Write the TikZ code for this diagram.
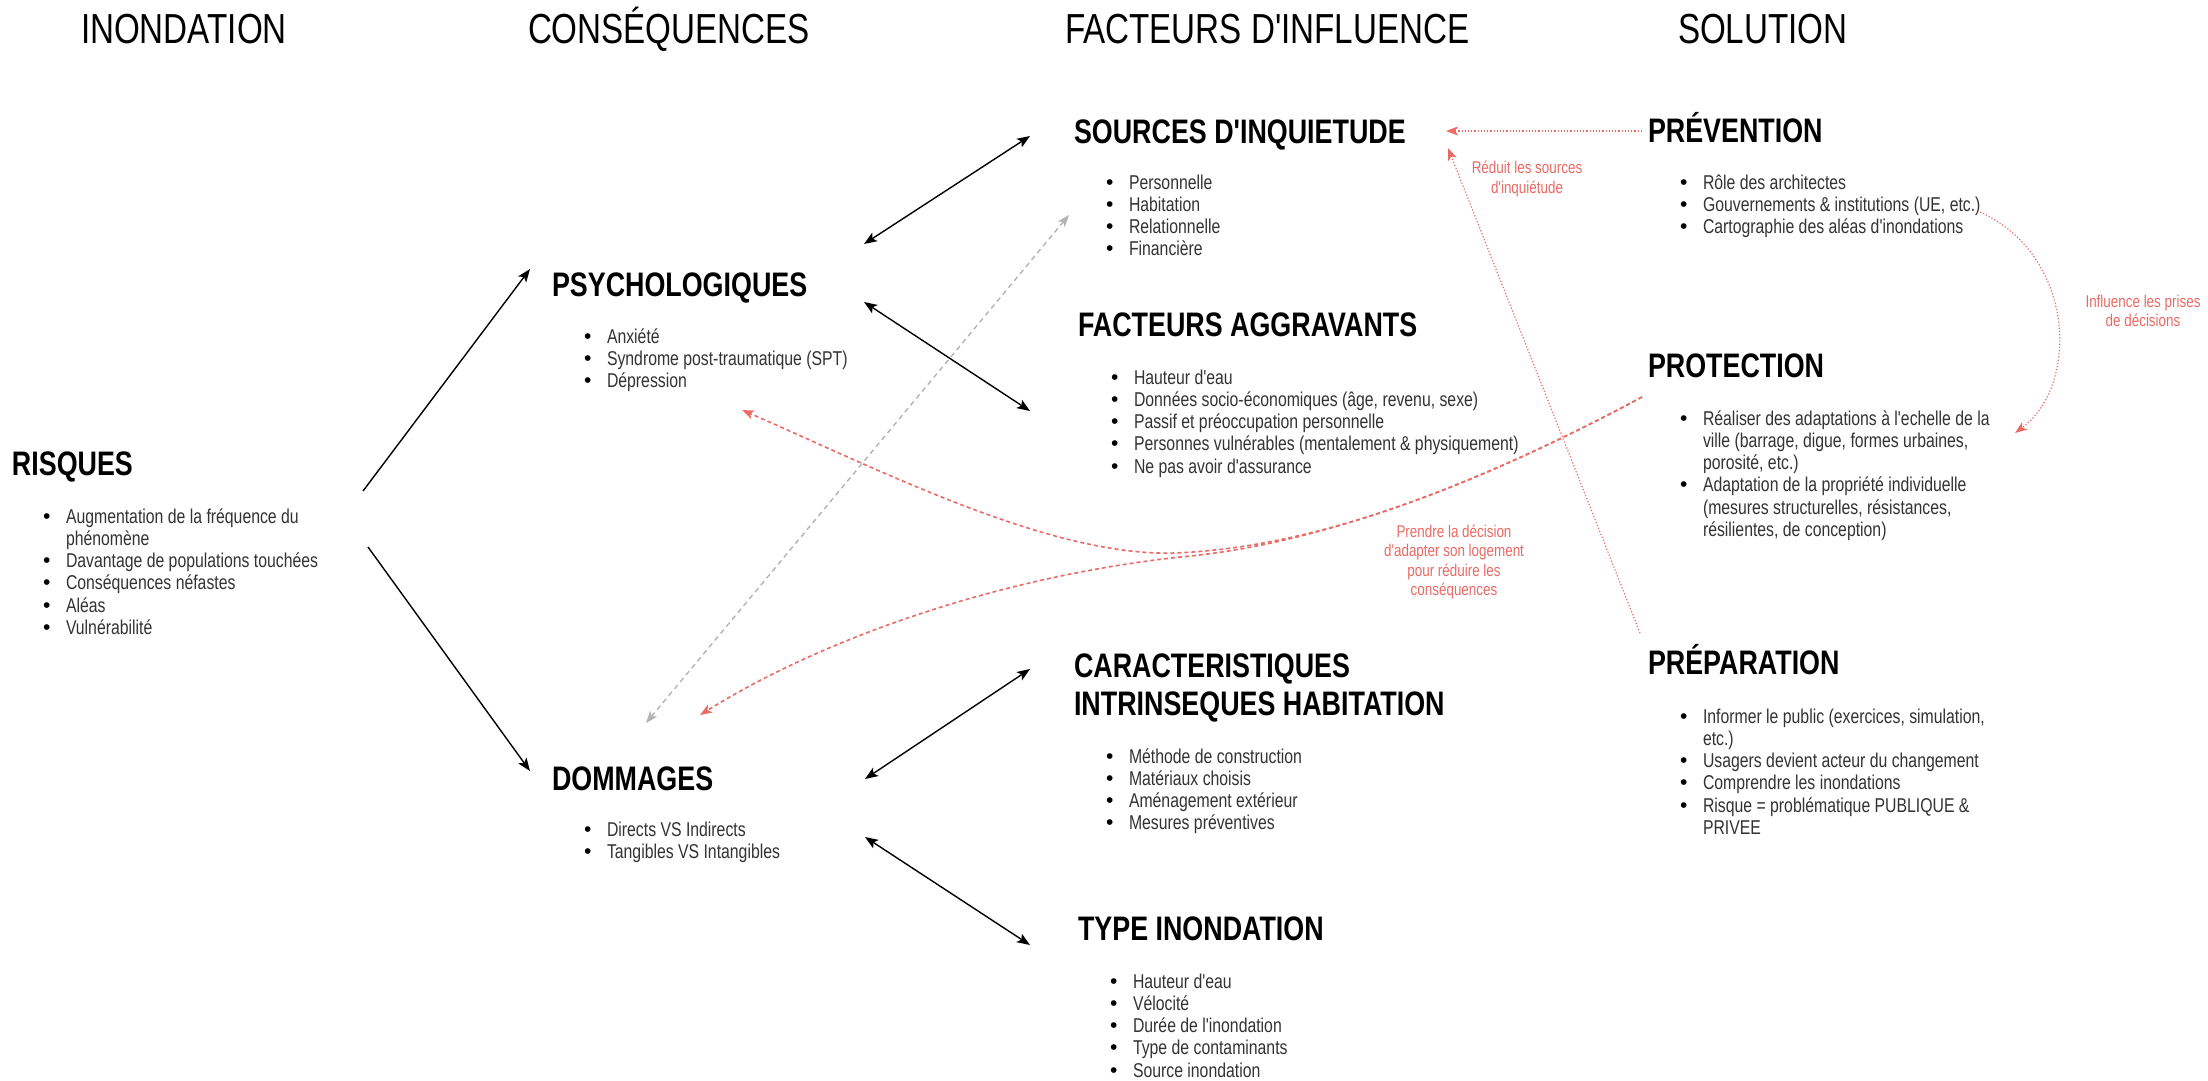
\documentclass[tikz,border=0pt]{standalone}
\usepackage{fontspec}
\setmainfont{Liberation Sans}[FakeStretch=0.79,Ligatures=TeXOff]
\newfontfamily\bulletfont{Liberation Sans}
\usetikzlibrary{arrows.meta}
\definecolor{redc}{HTML}{EA6B66}
\definecolor{txtc}{HTML}{333333}
\definecolor{grayc}{HTML}{B3B3B3}
\newcommand{\hdrfont}{\fontsize{42}{46}\selectfont}
\newcommand{\ttlfont}{\fontsize{34}{38}\selectfont\bfseries}
\newcommand{\bfont}{\fontsize{20}{22.3}\selectfont}
\newcommand{\rfont}{\fontsize{17}{19.3}\selectfont}
\newcommand{\bdot}{{\bulletfont\fontsize{21}{21}\selectfont\color{black}\textbullet}}
\newcommand{\bi}[1]{\hbox{\makebox[22pt][l]{\hspace{-1pt}\bdot}#1}}
\newcommand{\bc}[1]{\hbox{\hspace{22pt}#1}}
\newcommand{\blist}[1]{\vtop{\bfont\baselineskip=22.3pt #1}}
\begin{document}
\begin{tikzpicture}[x=1pt,y=-1pt,
  every node/.style={inner sep=0pt,outer sep=0pt},
  hdr/.style={anchor=base west,font=\hdrfont},
  ttl/.style={anchor=base west,font=\ttlfont},
  lst/.style={anchor=base west,text=txtc},
  rlbl/.style={align=center,text=redc,font=\rfont},
  tipk/.tip={Stealth[length=13pt,width=10pt,inset=3pt]},
  tipr/.tip={Stealth[length=12pt,width=9pt,inset=3pt]},
  blk/.style={draw=black,line width=1.4pt,-tipk},
  blk2/.style={draw=black,line width=1.4pt,tipk-tipk},
  gdash/.style={draw=grayc,line width=1.4pt,dash pattern=on 5pt off 4pt,tipr-tipr},
  rdash/.style={draw=redc,line width=1.6pt,dash pattern=on 4pt off 3pt,-tipr},
  rdot/.style={draw=redc,line width=1.2pt,dash pattern=on 1.2pt off 2pt,-tipr}]
\fill[white] (0,0) rectangle (2208,1080);
\useasboundingbox (0,0) rectangle (2208,1080);

% headers
\node[hdr] (h1) at (81,43) {INONDATION};
\node[hdr] (h2) at (528,43) {CONSÉQUENCES};
\node[hdr] (h3) at (1065,43) {FACTEURS D'INFLUENCE};
\node[hdr] (h4) at (1678,43) {SOLUTION};

% titles
\node[ttl] (risq) at (12,475) {RISQUES};
\node[ttl] (psy) at (552,296) {PSYCHOLOGIQUES};
\node[ttl] (dom) at (552,790) {DOMMAGES};
\node[ttl] (src) at (1074,143) {SOURCES D'INQUIETUDE};
\node[ttl] (fa) at (1078,336) {FACTEURS AGGRAVANTS};
\node[anchor=base west] (car) at (1074,677) {\vtop{\ttlfont\baselineskip=38pt\hbox{CARACTERISTIQUES}\hbox{INTRINSEQUES HABITATION}}};
\node[ttl] (typ) at (1078,940) {TYPE INONDATION};
\node[ttl] (prev) at (1648,142) {PRÉVENTION};
\node[ttl] (prot) at (1648,377) {PROTECTION};
\node[ttl] (prep) at (1648,674) {PRÉPARATION};

% lists
\node[lst] (lrisq) at (44,523) {\blist{\bi{Augmentation de la fréquence du}\bc{phénomène}\bi{Davantage de populations touchées}\bi{Conséquences néfastes}\bi{Aléas}\bi{Vulnérabilité}}};
\node[lst] (lpsy) at (585,343) {\blist{\bi{Anxiété}\bi{Syndrome post-traumatique (SPT)}\bi{Dépression}}};
\node[lst] (ldom) at (585,836) {\blist{\bi{Directs VS Indirects}\bi{Tangibles VS Intangibles}}};
\node[lst] (lsrc) at (1107,189) {\blist{\bi{Personnelle}\bi{Habitation}\bi{Relationnelle}\bi{Financière}}};
\node[lst] (lfa) at (1112,384) {\blist{\bi{Hauteur d'eau}\bi{Données socio-économiques (âge, revenu, sexe)}\bi{Passif et préoccupation personnelle}\bi{Personnes vulnérables (mentalement \& physiquement)}\bi{Ne pas avoir d'assurance}}};
\node[lst] (lcar) at (1107,763) {\blist{\bi{Méthode de construction}\bi{Matériaux choisis}\bi{Aménagement extérieur}\bi{Mesures préventives}}};
\node[lst] (ltyp) at (1111,988) {\blist{\bi{Hauteur d'eau}\bi{Vélocité}\bi{Durée de l'inondation}\bi{Type de contaminants}\bi{Source inondation}}};
\node[lst] (lprev) at (1681,189) {\blist{\bi{Rôle des architectes}\bi{Gouvernements \& institutions (UE, etc.)}\bi{Cartographie des aléas d'inondations}}};
\node[lst] (lprot) at (1681,425) {\blist{\bi{Réaliser des adaptations à l'echelle de la}\bc{ville (barrage, digue, formes urbaines,}\bc{porosité, etc.)}\bi{Adaptation de la propriété individuelle}\bc{(mesures structurelles, résistances,}\bc{résilientes, de conception)}}};
\node[lst] (lprep) at (1681,723) {\blist{\bi{Informer le public (exercices, simulation,}\bc{etc.)}\bi{Usagers devient acteur du changement}\bi{Comprendre les inondations}\bi{Risque = problématique PUBLIQUE \&}\bc{PRIVEE}}};

% red labels
\node[rlbl] (lab1) at (1527,179) {Réduit les sources\\d'inquiétude};
\node[rlbl] (lab2) at (2143,311) {Influence les prises\\de décisions};
\node[rlbl] (lab3) at (1454,562) {Prendre la décision\\d'adapter son logement\\pour réduire les\\conséquences};

% connector end points
\coordinate (rP) at (363,491); \coordinate (pIn) at (530,269);
\coordinate (rD) at (368,547); \coordinate (dIn) at (530,771);
\coordinate (pS) at (864,244); \coordinate (sIn) at (1030,136);
\coordinate (pF) at (864,302); \coordinate (fIn) at (1030,411);
\coordinate (dC) at (865,779); \coordinate (cIn) at (1030,669);
\coordinate (dT) at (865,837); \coordinate (tIn) at (1030,945);
\coordinate (gA) at (646,723); \coordinate (gB) at (1069,215);
\coordinate (prevOut) at (1642,131); \coordinate (srcR) at (1446,131);
\coordinate (prepOut) at (1640,633); \coordinate (srcR2) at (1448,148);
\coordinate (protOut) at (1642,397); \coordinate (psyR) at (742,410); \coordinate (domR) at (700,715);
\coordinate (prevB) at (1980,212); \coordinate (protR) at (2015,433);

% black arrows
\draw[blk] (rP) -- (pIn);
\draw[blk] (rD) -- (dIn);
\draw[blk2] (pS) -- (sIn);
\draw[blk2] (pF) -- (fIn);
\draw[blk2] (dC) -- (cIn);
\draw[blk2] (dT) -- (tIn);

% gray dashed
\draw[gdash] (gA) -- (gB);

% red connectors
\draw[rdot] (prevOut) -- (srcR);
\draw[rdot] (prepOut) -- (srcR2);
\draw[rdash] (protOut) .. controls (1450,500) and (1300,545) .. (1190,556) .. controls (1000,575) and (820,640) .. (domR);
\draw[rdash] (protOut) .. controls (1450,500) and (1300,548) .. (1175,553) .. controls (1050,557) and (880,470) .. (psyR);
\draw[rdot] (prevB) .. controls (2075,255) and (2080,385) .. (protR);
\end{tikzpicture}
\end{document}
